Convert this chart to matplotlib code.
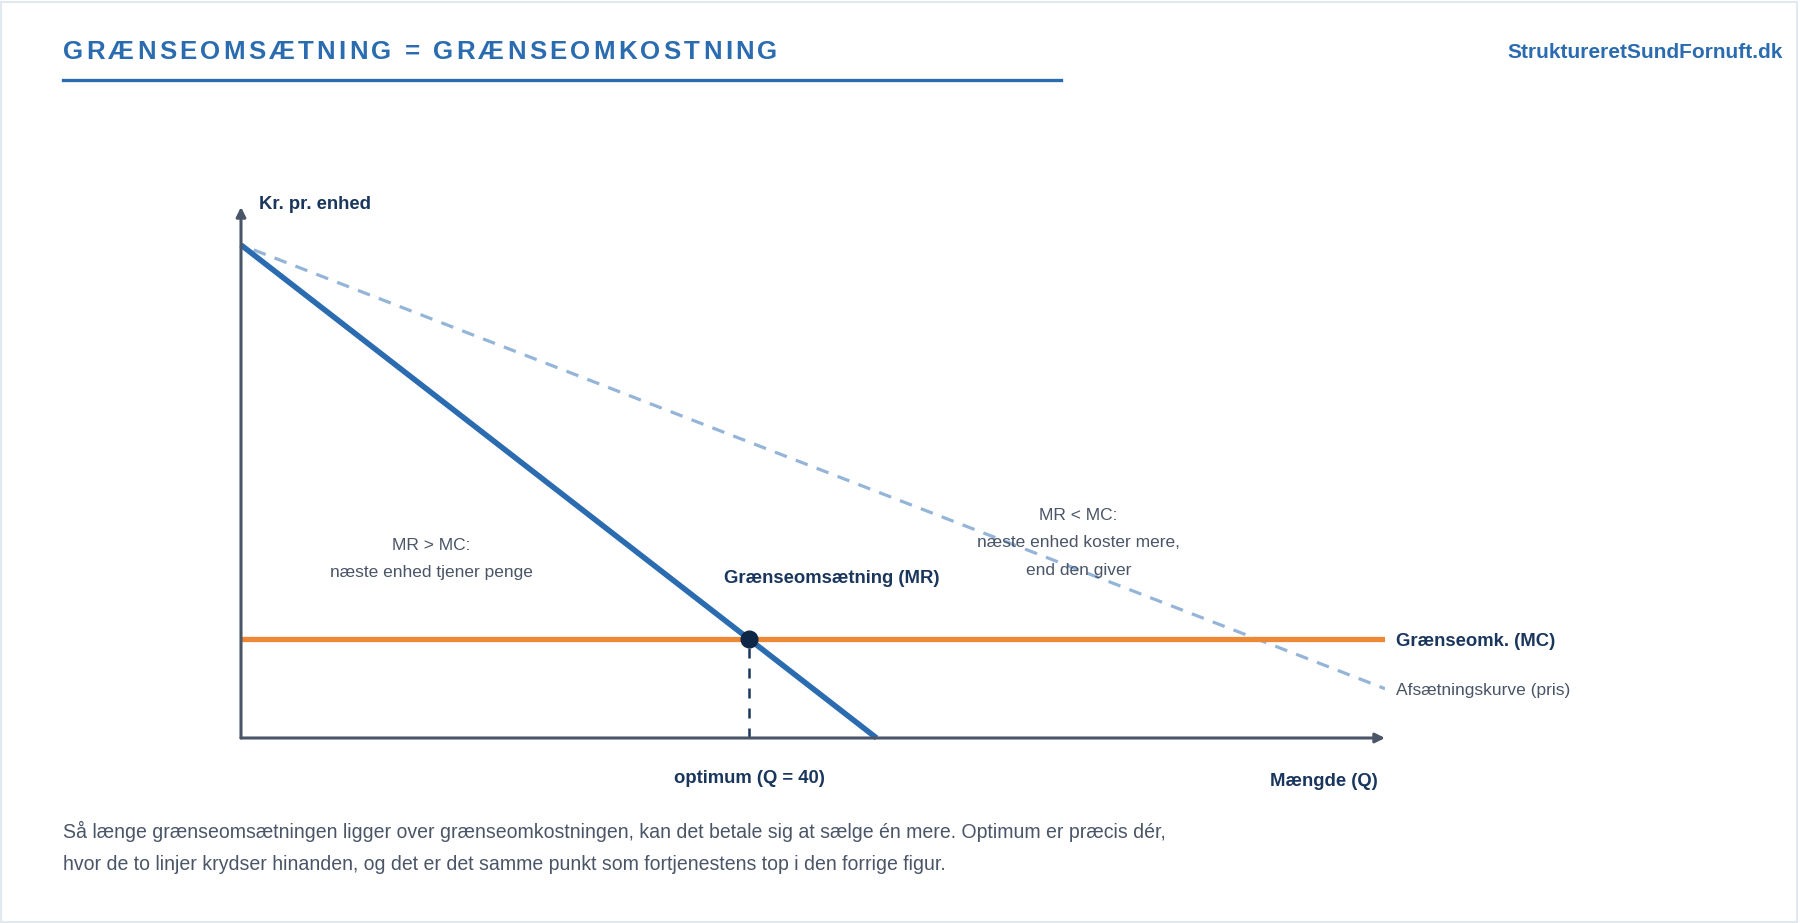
import matplotlib
matplotlib.use("Agg")
import matplotlib.pyplot as plt
from matplotlib.patches import Rectangle
from matplotlib.lines import Line2D

plt.rcParams['font.family'] = ['Liberation Sans', 'DejaVu Sans']

# data (P = 100 - Q, MR = 100 - 2Q, MC = 20)
q_mr = [0, 50]
mr = [100, 0]
q_demand = [1, 90]
price = [99, 10]
q_mc = [0, 90]
mc = [20, 20]
q_opt = 40
mc_opt = 20

title = "GRÆNSEOMSÆTNING = GRÆNSEOMKOSTNING"
site = "StruktureretSundFornuft.dk"
footer = ["Så længe grænseomsætningen ligger over grænseomkostningen, kan det betale sig at sælge én mere. Optimum er præcis dér,",
          "hvor de to linjer krydser hinanden, og det er det samme punkt som fortjenestens top i den forrige figur."]

BLUE = '#2b6cb0'
ORANGE = '#ed8936'
NAVY = '#1a365d'
DOT = '#0f2747'
AXIS = '#4a5568'
GRAY = '#4a5568'

W, H = 1800, 923
fig = plt.figure(figsize=(W / 100, H / 100), dpi=100)
fig.patch.set_facecolor('white')

# page border
fig.patches.append(Rectangle((0.0005, 0.001), 0.998, 0.997, transform=fig.transFigure,
                             fill=False, edgecolor='#e2e8f0', lw=1.5))


def px(x, y):
    return x / W, 1 - y / H


# header title with letter spacing
renderer = fig.canvas.get_renderer()
x0 = 63
spacing = 3.2
for ch in title:
    t = fig.text(*px(x0, 52), ch, fontsize=18.6, fontweight='bold', color=BLUE,
                 ha='left', va='center')
    w = t.get_window_extent(renderer).width
    if ch == ' ':
        w = 18.6 * 100 / 72 * 0.278
    x0 += w + spacing
fig.add_artist(Line2D([63 / W, 1061 / W], [1 - 80 / H, 1 - 80 / H], color=BLUE, lw=2.4,
                      transform=fig.transFigure))
fig.text(*px(1783, 53), site, fontsize=15, fontweight='bold', color=BLUE,
         ha='right', va='center')

# chart area
ax = fig.add_axes([241 / W, 1 - 738 / H, (1385 - 241) / W, (738 - 207) / H])
ax.set_xlim(0, 90)
ax.set_ylim(0, 107.7)
ax.axis('off')

ax.plot(q_demand, price, color=BLUE, alpha=0.5, lw=2.3, ls=(0, (4, 3)), solid_capstyle='butt')
ax.plot(q_mc, mc, color=ORANGE, lw=3.8, solid_capstyle='butt')
ax.plot(q_mr, mr, color=BLUE, lw=4, solid_capstyle='butt', clip_on=False)
ax.plot([q_opt, q_opt], [0, mc_opt], color=NAVY, lw=1.8, ls=(0, (4, 4)))
ax.plot([q_opt], [mc_opt], 'o', color=DOT, ms=12, zorder=5)

# axes with arrows
arrow = dict(arrowstyle='-|>', color=AXIS, lw=2.2, mutation_scale=14, shrinkA=0, shrinkB=0)
ax.annotate('', xy=(90, 0), xytext=(0, 0), arrowprops=arrow, annotation_clip=False)
ax.annotate('', xy=(0, 107.7), xytext=(0, 0), arrowprops=arrow, annotation_clip=False)

# labels
BOLD = 13.3
ax.text(1.4, 108.3, "Kr. pr. enhed", fontsize=BOLD, fontweight='bold', color=NAVY,
        ha='left', va='center', clip_on=False)
ax.text(15.0, 39.1, "MR > MC:", fontsize=12.5, color=GRAY, ha='center', va='center')
ax.text(15.0, 33.5, "næste enhed tjener penge", fontsize=12.5, color=GRAY, ha='center', va='center')
ax.text(46.5, 32.3, "Grænseomsætning (MR)", fontsize=BOLD, fontweight='bold', color=NAVY,
        ha='center', va='center')
ax.text(65.9, 45.2, "MR < MC:", fontsize=12.5, color=GRAY, ha='center', va='center')
ax.text(65.9, 39.6, "næste enhed koster mere,", fontsize=12.5, color=GRAY, ha='center', va='center')
ax.text(65.9, 33.9, "end den giver", fontsize=12.5, color=GRAY, ha='center', va='center')
ax.text(90.9, 19.6, "Grænseomk. (MC)", fontsize=BOLD, fontweight='bold', color=NAVY,
        ha='left', va='center', clip_on=False)
ax.text(90.9, 9.7, "Afsætningskurve (pris)", fontsize=12.5, color=GRAY,
        ha='left', va='center', clip_on=False)
ax.text(q_opt, -8.2, "optimum (Q = 40)", fontsize=BOLD, fontweight='bold', color=NAVY,
        ha='center', va='center', clip_on=False)
ax.text(89.45, -8.8, "Mængde (Q)", fontsize=BOLD, fontweight='bold', color=NAVY,
        ha='right', va='center', clip_on=False)

# footer text
fig.text(*px(63, 831), footer[0], fontsize=14.05, color=GRAY, ha='left', va='center')
fig.text(*px(63, 864), footer[1], fontsize=14.05, color=GRAY, ha='left', va='center')

fig.savefig('out.png', dpi=100, facecolor='white')
